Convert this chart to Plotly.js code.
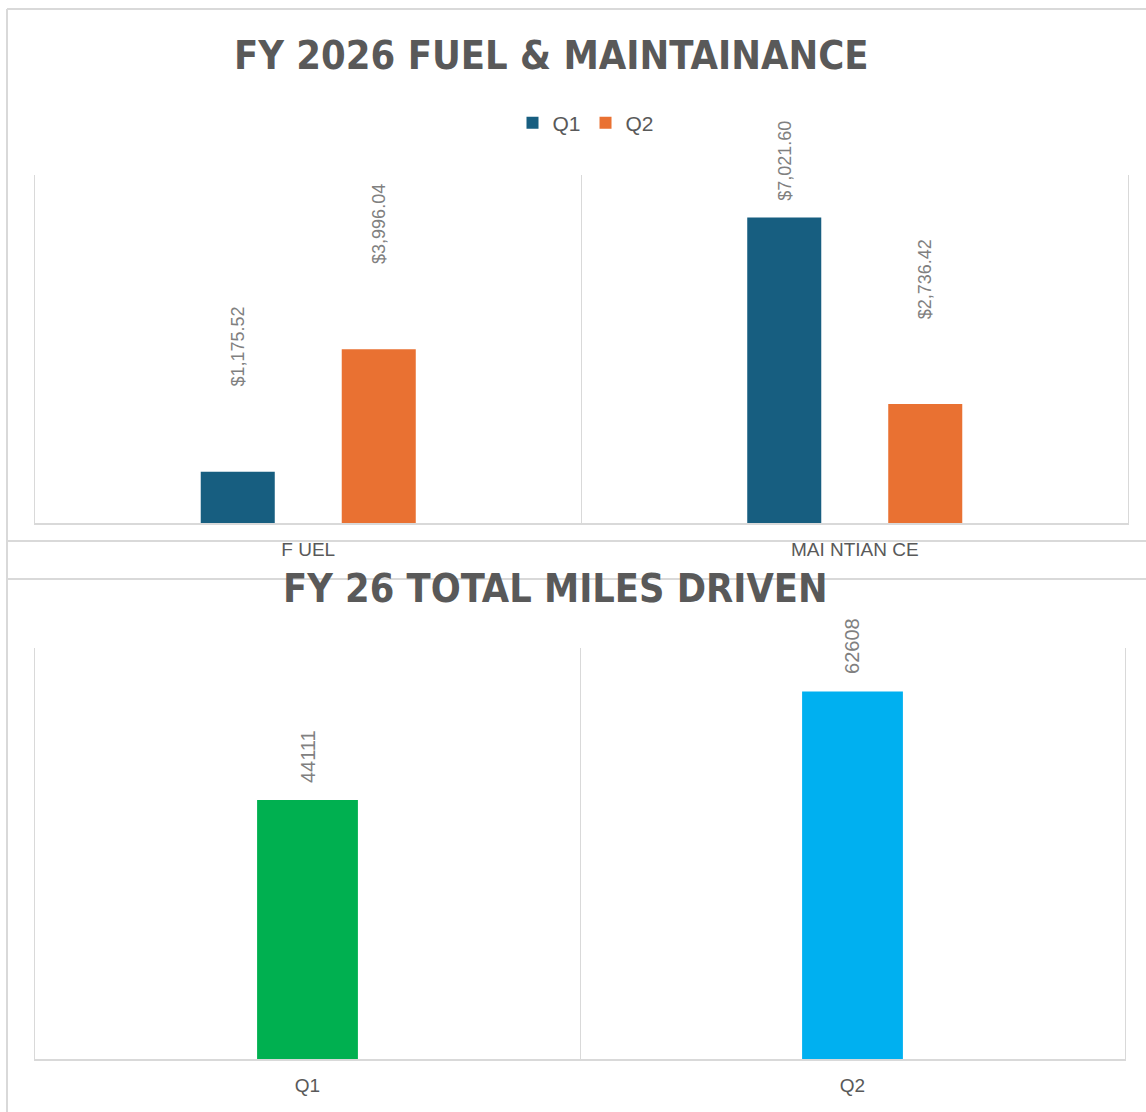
<!DOCTYPE html>
<html>
<head>
<meta charset="utf-8">
<script src="https://cdn.plot.ly/plotly-3.0.1.min.js"></script>
<style>
html, body { margin: 0; padding: 0; background: #ffffff; }
#chart { width: 1146px; height: 1112px; }
</style>
</head>
<body>
<div id="chart"></div>
<script>
// ---- Data ----
const costCategories = ['F UEL', 'MAI NTIAN CE'];
const q1Costs = [1175.52, 7021.60];
const q2Costs = [3996.04, 2736.42];
const costSeriesNames = ['Q1', 'Q2'];

const milesCategories = ['Q1', 'Q2'];
const milesValues = [44111, 62608];

const titleTop = 'FY 2026 FUEL &amp; MAINTAINANCE';
const titleBottom = 'FY 26 TOTAL MILES DRIVEN';

// ---- Styles ----
const colQ1 = '#175E80';
const colQ2 = '#E97132';
const milesColors = ['#00B050', '#00B0F0'];
const titleColor = '#595959';
const labelColor = '#808080';
const gridColor = '#D9D9D9';
const titleFont = '"DejaVu Sans Condensed", "Liberation Sans", sans-serif';
const bodyFont = '"Liberation Sans", Arial, sans-serif';

const W = 1146, H = 1112;
const px = x => x / W;
const py = y => 1 - y / H;

const topBargap = 0.484;
const topGroupgap = 0.475;

const traces = [
  { type: 'bar', name: costSeriesNames[0], x: costCategories, y: q1Costs,
    marker: { color: colQ1 }, xaxis: 'x', yaxis: 'y', hoverinfo: 'skip' },
  { type: 'bar', name: costSeriesNames[1], x: costCategories, y: q2Costs,
    marker: { color: colQ2 }, xaxis: 'x', yaxis: 'y', hoverinfo: 'skip' },
  { type: 'bar', name: 'Miles', x: milesCategories, y: milesValues,
    marker: { color: milesColors }, xaxis: 'x2', yaxis: 'y2', showlegend: false,
    width: 0.185, hoverinfo: 'skip' }
];

const fmtMoney = v => '$' + v.toLocaleString('en-US', { minimumFractionDigits: 2, maximumFractionDigits: 2 });

const annotations = [];
// Title annotations
annotations.push({ xref: 'paper', yref: 'paper', x: px(551), y: py(55), xanchor: 'center', yanchor: 'middle',
  text: '<b>' + titleTop + '</b>', showarrow: false, font: { family: titleFont, size: 39.5, color: titleColor } });
annotations.push({ xref: 'paper', yref: 'paper', x: px(555), y: py(588), xanchor: 'center', yanchor: 'middle',
  text: '<b>' + titleBottom + '</b>', showarrow: false, font: { family: titleFont, size: 39.3, color: titleColor } });

// Data labels, top chart
const slot = (1 - topBargap) / 2;
[q1Costs, q2Costs].forEach((series, si) => {
  series.forEach((v, ci) => {
    annotations.push({
      xref: 'x', yref: 'y', x: ci + (si === 0 ? -slot / 2 : slot / 2), y: v,
      xanchor: 'center', yanchor: 'bottom', textangle: -90,
      yshift: v > 6000 ? 15 : 83,
      text: fmtMoney(v), showarrow: false,
      font: { family: bodyFont, size: 18, color: labelColor }
    });
  });
});
// Data labels, bottom chart
milesValues.forEach((v, ci) => {
  annotations.push({
    xref: 'x2', yref: 'y2', x: ci, y: v,
    xanchor: 'center', yanchor: 'bottom', textangle: -90, yshift: 15,
    text: String(v), showarrow: false,
    font: { family: bodyFont, size: 20, color: labelColor }
  });
});

const line = (x0, y0, x1, y1) => ({ type: 'line', xref: 'paper', yref: 'paper',
  x0: px(x0), y0: py(y0), x1: px(x1), y1: py(y1), line: { color: gridColor, width: 2 }, layer: 'below' });

const shapes = [
  line(7, 9, 1146, 9),
  line(7, 9, 7, 1112),
  line(7, 541, 1146, 541),
  line(7, 579, 1146, 579)
];

const axisCommon = {
  type: 'category', tickson: 'boundaries', showgrid: true, gridcolor: gridColor, gridwidth: 1,
  showline: true, linecolor: gridColor, linewidth: 2, ticks: '', zeroline: false, fixedrange: true,
  tickfont: { family: bodyFont, size: 19, color: titleColor }
};
const yCommon = {
  showticklabels: false, showgrid: false, zeroline: false, ticks: '',
  showline: true, mirror: true, linecolor: gridColor, linewidth: 1, fixedrange: true
};

const layout = {
  width: W, height: H,
  margin: { l: 0, r: 0, t: 0, b: 0, pad: 0 },
  paper_bgcolor: '#ffffff', plot_bgcolor: 'rgba(0,0,0,0)',
  barmode: 'group', bargap: topBargap, bargroupgap: topGroupgap,
  showlegend: true,
  legend: { orientation: 'h', x: px(586), y: py(123), xanchor: 'center', yanchor: 'middle',
    font: { family: bodyFont, size: 21, color: titleColor }, itemwidth: 30, tracegroupgap: 0,
    bgcolor: 'rgba(0,0,0,0)' },
  xaxis: Object.assign({}, axisCommon, { domain: [px(35), px(1128)], anchor: 'y', ticklabelstandoff: 8 }),
  yaxis: Object.assign({}, yCommon, { domain: [py(523), py(175)], range: [0, 8000], anchor: 'x' }),
  xaxis2: Object.assign({}, axisCommon, { domain: [px(35), px(1125)], anchor: 'y2', ticklabelstandoff: 8 }),
  yaxis2: Object.assign({}, yCommon, { domain: [py(1059), py(648)], range: [0, 70000], anchor: 'x2' }),
  annotations: annotations,
  shapes: shapes
};

Plotly.newPlot('chart', traces, layout, { displayModeBar: false, staticPlot: true });
</script>
</body>
</html>
